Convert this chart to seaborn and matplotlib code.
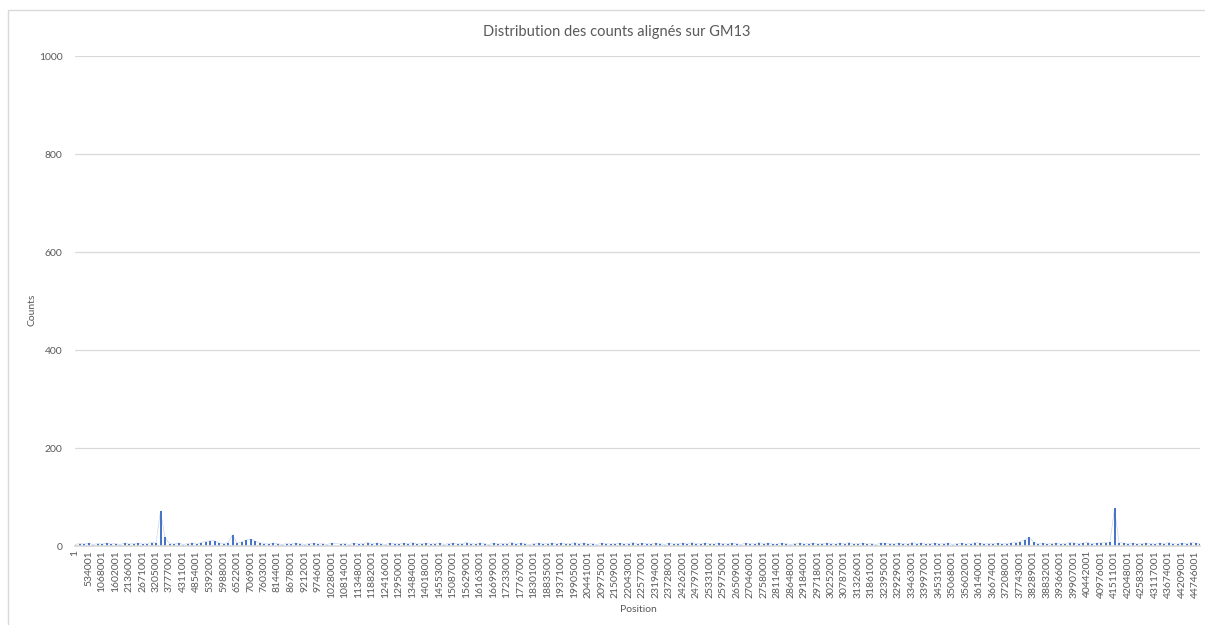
import numpy as np
import pandas as pd
import seaborn as sns
import matplotlib.pyplot as plt
from matplotlib.patches import Rectangle

# Tick labels of the category axis (genomic positions)
position_labels = [
    '1', '534001', '1068001', '1602001', '2136001', '2671001', '3205001', '3777001',
    '4311001', '4854001', '5392001', '5988001', '6522001', '7069001', '7603001', '8144001',
    '8678001', '9212001', '9746001', '10280001', '10814001', '11348001', '11882001', '12416001',
    '12950001', '13484001', '14018001', '14553001', '15087001', '15629001', '16163001', '16699001',
    '17233001', '17767001', '18301001', '18835001', '19371001', '19905001', '20441001', '20975001',
    '21509001', '22043001', '22577001', '23194001', '23728001', '24262001', '24797001', '25331001',
    '25975001', '26509001', '27046001', '27580001', '28114001', '28648001', '29184001', '29718001',
    '30252001', '30787001', '31326001', '31861001', '32395001', '32929001', '33463001', '33997001',
    '34531001', '35068001', '35602001', '36140001', '36674001', '37208001', '37743001', '38289001',
    '38832001', '39366001', '39907001', '40442001', '40976001', '41511001', '42048001', '42583001',
    '43117001', '43674001', '44209001', '44746001',
]

# Counts, three samples per labelled interval
counts = [
    3, 5, 4, 6, 3, 5, 4, 6, 4, 5, 3, 6,
    4, 5, 6, 4, 5, 7, 6, 72, 18, 5, 4, 6,
    3, 5, 6, 4, 7, 9, 11, 10, 6, 5, 7, 23,
    6, 8, 12, 14, 10, 7, 5, 4, 6, 5, 3, 5,
    4, 6, 5, 3, 5, 6, 4, 5, 3, 6, np.nan, 4,
    5, 3, 6, 4, 5, 7, 4, 6, 5, 3, 6, 5,
    4, 6, 5, 7, 4, 5, 6, 4, 5, 6, 3, 5,
    6, 4, 5, 7, 5, 4, 6, 5, 3, 6, 4, 5,
    5, 7, 4, 6, 5, 3, 5, 6, 4, 5, 6, 4,
    6, 5, 4, 7, 5, 6, 4, 5, 3, 6, 5, 4,
    5, 6, 4, 5, 7, 4, 6, 5, 4, 6, 5, 3,
    6, 4, 5, 6, 4, 7, 5, 4, 6, 5, 4, 6,
    5, 4, 6, 5, 3, 6, 5, 4, 7, 5, 6, 4,
    4, 6, 5, 3, 5, 6, 4, 5, 6, 4, 5, 6,
    5, 4, 6, 5, 7, 4, 5, 6, 4, 5, 3, 6,
    6, 5, 4, 6, 5, 4, 7, 5, 6, 4, 5, 6,
    4, 5, 6, 3, 5, 6, 4, 5, 7, 6, 4, 5,
    5, 6, 4, 5, 6, 7, 9, 12, 18, 8, 5, 6,
    4, 5, 6, 4, 5, 7, 6, 5, 6, 7, 5, 6,
    6, 7, 8, 77, 7, 6, 5, 6, 4, 5, 6, 5,
    4, 6, 5, 7, 5, 4, 6, 5, 7, 6, 5,
]

samples_per_label = 3
df = pd.DataFrame({'sample': np.arange(len(counts)), 'counts': counts})

sns.set_theme(style='white')
plt.rcParams['font.family'] = ['Lato', 'DejaVu Sans']

fig = plt.figure(figsize=(12.05, 6.25), dpi=100)
ax = fig.add_axes([75 / 1205, 1 - 546 / 625, 1125 / 1205, 490 / 625])

# faint trace plus one stroke per sample, like a dense Excel line
sns.lineplot(data=df, x='sample', y='counts', color='#4472C4', linewidth=0.4,
             alpha=0.35, ax=ax)
ax.vlines(df['sample'], 0, df['counts'], color='#4472C4', linewidth=1.4)

ax.set_ylim(0, 1000)
ax.set_yticks([0, 200, 400, 600, 800, 1000])
ax.set_xlim(0, len(counts) - 1)
ax.set_xticks(np.arange(len(position_labels)) * samples_per_label)
ax.set_xticklabels(position_labels, rotation=90)
ax.yaxis.grid(True, color='#D9D9D9', linewidth=0.9)
ax.set_axisbelow(True)
for side in ['left', 'right', 'top']:
    ax.spines[side].set_visible(False)
ax.spines['bottom'].set_color('#D9D9D9')
ax.tick_params(axis='both', length=0, labelsize=7.5, colors='#595959')
ax.tick_params(axis='x', pad=3)
ax.tick_params(axis='y', pad=9)

ax.set_xlabel('')
ax.set_ylabel('')
fig.text(617 / 1205, 1 - 32 / 625, 'Distribution des counts alignés sur GM13',
         ha='center', va='center', fontsize=10.5, color='#595959')
fig.text(32 / 1205, 1 - 310 / 625, 'Counts', rotation=90,
         ha='center', va='center', fontsize=7.5, color='#595959')
fig.text(638 / 1205, 1 - 610 / 625, 'Position',
         ha='center', va='center', fontsize=7.5, color='#595959')

# chart area border (cropped at right and bottom)
fig.patches.append(Rectangle((8 / 1205, -0.1), 1.2, 1.1 - 10 / 625,
                             transform=fig.transFigure, fill=False,
                             edgecolor='#D9D9D9', linewidth=1))

fig.savefig('out.png', dpi=100, facecolor='white')
